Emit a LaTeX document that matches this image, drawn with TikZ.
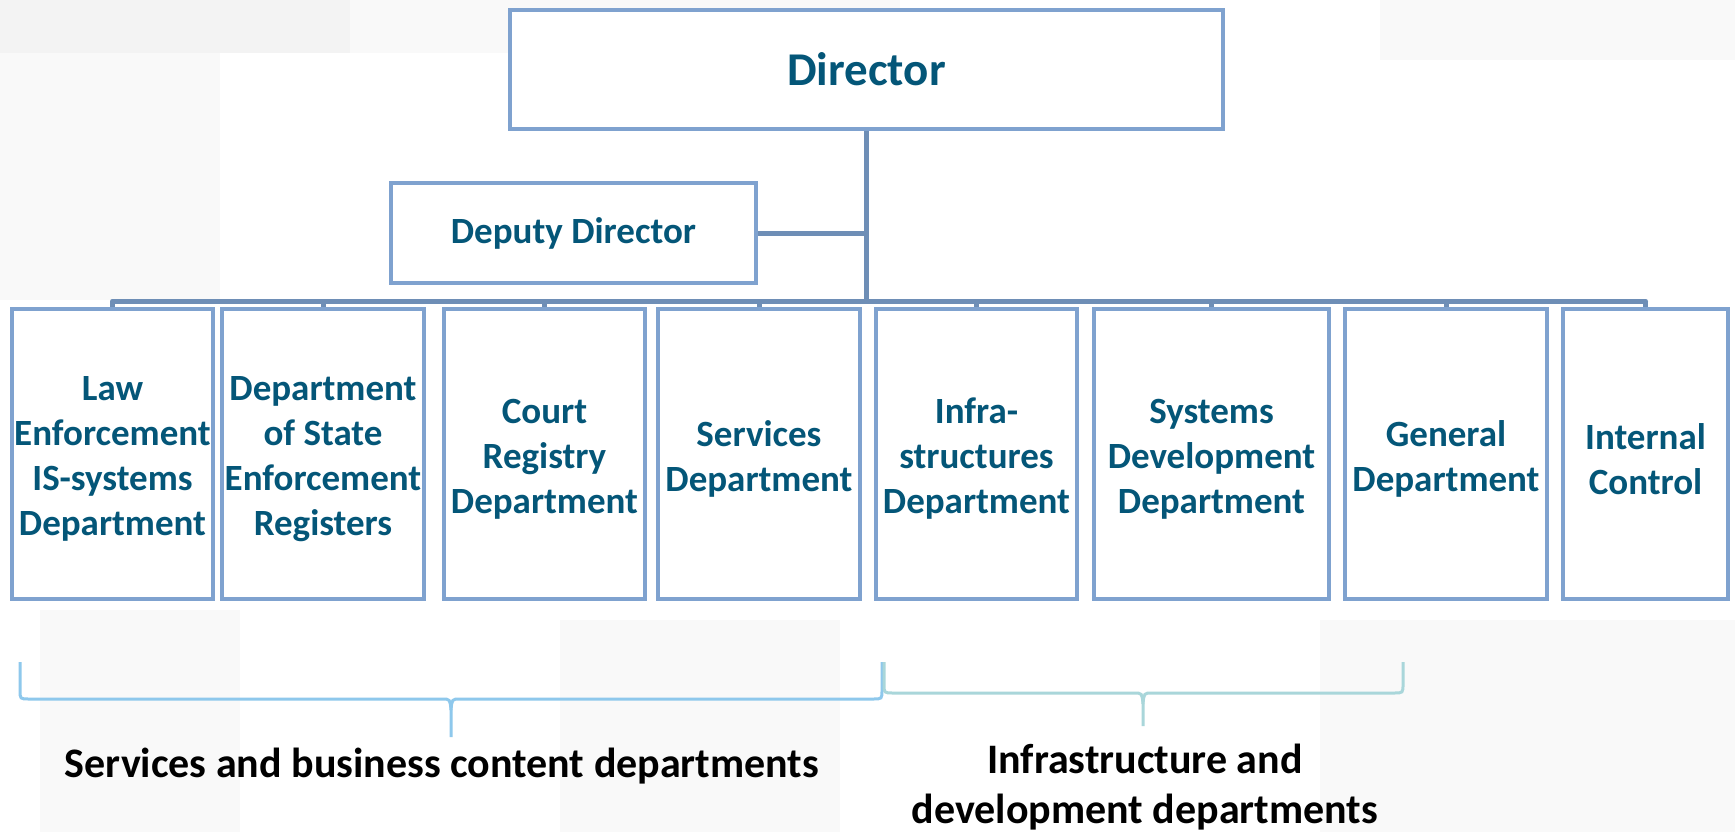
\documentclass[tikz,border=0pt]{standalone}
\usepackage{fontspec}
\setmainfont{Carlito}
\definecolor{boxline}{RGB}{127,162,207}
\definecolor{conn}{RGB}{110,142,182}
\definecolor{txt}{RGB}{4,86,120}
\definecolor{braceA}{RGB}{142,200,236}
\definecolor{braceB}{RGB}{169,214,218}
\definecolor{bgA}{RGB}{243,243,243}
\definecolor{bgB}{RGB}{249,249,249}
\begin{document}
\begin{tikzpicture}[x=1pt,y=-1pt,
  orgbox/.style={draw=boxline,line width=4pt,fill=white,inner sep=0pt,align=center,
     text=txt,font=\bfseries\fontsize{37}{45}\selectfont},
  dept/.style={orgbox,minimum height=290pt},
  depttext/.style={inner sep=0pt,align=center,text=txt,font=\bfseries\fontsize{37}{45}\selectfont,yshift=-5pt},
  conline/.style={draw=conn,line width=5pt},
  lbl/.style={font=\bfseries\fontsize{42}{50}\selectfont,text=black,align=center,inner sep=0pt}]
\useasboundingbox (0,0) rectangle (1735,832);
\fill[white] (0,0) rectangle (1735,832);
% faint background patches
\fill[bgA] (0,0) rectangle (350,53);
\fill[bgB] (350,0) rectangle (900,53);
\fill[bgB] (0,53) rectangle (220,300);
\fill[bgB] (40,610) rectangle (240,832);
\fill[bgB] (1380,0) rectangle (1735,60);
\fill[bgB] (1320,620) rectangle (1735,832);
\fill[bgB] (560,620) rectangle (840,832);
% nodes
\node[orgbox,minimum width=713pt,minimum height=119pt,font=\bfseries\fontsize{47}{56}\selectfont] (dir) at (866.5,69.5) {Director};
\node[orgbox,minimum width=365pt,minimum height=100pt] (dep) at (573.5,233) {Deputy Director};
\coordinate (bus) at (866,301);
\node[dept,minimum width=201pt] (b1) at (112.5,454) {};
\node[dept,minimum width=202pt] (b2) at (323,454) {};
\node[dept,minimum width=201pt] (b3) at (544.5,454) {};
\node[dept,minimum width=202pt] (b4) at (759,454) {};
\node[dept,minimum width=201pt] (b5) at (976.5,454) {};
\node[dept,minimum width=235pt] (b6) at (1211.5,454) {};
\node[dept,minimum width=202pt] (b7) at (1446,454) {};
\node[dept,minimum width=165pt] (b8) at (1645.5,454) {};
\node[depttext] (t1) at (b1.center) {Law\\Enforcement\\IS-systems\\Department};
\node[depttext] (t2) at (b2.center) {Department\\of State\\Enforcement\\Registers};
\node[depttext] (t3) at (b3.center) {Court\\Registry\\Department};
\node[depttext] (t4) at (b4.center) {Services\\Department};
\node[depttext] (t5) at (b5.center) {Infra-\\structures\\Department};
\node[depttext] (t6) at (b6.center) {Systems\\Development\\Department};
\node[depttext] (t7) at (b7.center) {General\\Department};
\node[depttext] (t8) at (b8.center) {Internal\\Control};
% connectors
\draw[conline] (dir.south) -- (dir.south |- bus);
\draw[conline] (dep.east) -- (dep.east -| dir.south);
\draw[conline,line cap=round] (b1.north |- bus) -- (b8.north |- bus);
\foreach \b in {b1,b2,b3,b4,b5,b6,b7,b8}{
  \draw[conline] (\b.north |- bus) -- (\b.north);
}
% braces
\draw[braceA,line width=3pt] (20,662) -- (20,690) .. controls (20,699) .. (29,699) -- (442,699)
  .. controls (450,699) .. (451,710) -- (451,737);
\draw[braceA,line width=3pt] (451,710) .. controls (452,699) .. (460,699) -- (873,699)
  .. controls (882,699) .. (882,690) -- (882,662);
\draw[braceB,line width=3pt] (884,662) -- (884,684) .. controls (884,693) .. (893,693) -- (1134,693)
  .. controls (1142,693) .. (1143,704) -- (1143,726);
\draw[braceB,line width=3pt] (1143,704) .. controls (1144,693) .. (1152,693) -- (1394,693)
  .. controls (1403,693) .. (1403,684) -- (1403,662);
% labels
\node[lbl] (lblA) at (442,766) {Services and business content departments};
\node[lbl,anchor=north] (lblB) at (1145,744) {Infrastructure and\\development departments};
\end{tikzpicture}
\end{document}
